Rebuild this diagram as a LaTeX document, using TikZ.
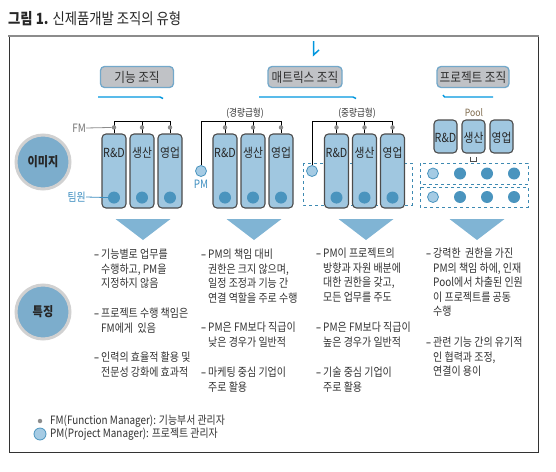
\documentclass[tikz,border=0pt]{standalone}
\usepackage{fontspec}
\setmainfont{Noto Sans CJK KR}[FakeStretch=0.86]
\newfontfamily\latin{Noto Sans}[FakeStretch=0.86]
\usetikzlibrary{positioning}

\definecolor{boxblue}{RGB}{160,199,224}
\definecolor{dotblue}{RGB}{74,148,190}
\definecolor{pmblue}{RGB}{165,203,228}
\definecolor{dashblue}{RGB}{62,138,178}
\definecolor{headgray}{RGB}{192,194,198}
\definecolor{headrim}{RGB}{115,168,202}
\definecolor{lineblue}{RGB}{0,150,222}
\definecolor{triblue}{RGB}{128,180,212}
\definecolor{circblue}{RGB}{124,173,204}
\definecolor{txtgray}{RGB}{50,50,50}
\definecolor{lblblue}{RGB}{62,142,192}
\definecolor{poolbrown}{RGB}{125,105,75}

\newcommand{\idash}{\llap{{\latin –}\hspace{2pt}}}

\tikzset{
  orghead/.style={draw=headrim, line width=1.3pt, fill=headgray, rounded corners=4pt,
    minimum height=21pt, inner sep=0pt, font=\fontsize{13.5}{13.5}\selectfont, text=txtgray},
  dept/.style={draw=black!70, line width=1.1pt, fill=boxblue, rounded corners=4pt,
    minimum width=24pt, minimum height=74pt, inner sep=0pt},
  pooldept/.style={dept, minimum width=23pt, minimum height=33pt},
  deptlbl/.style={font=\fontsize{12.5}{12.5}\selectfont, text=black!85, inner sep=0pt},
  member/.style={circle, fill=dotblue, minimum size=12pt, inner sep=0pt},
  pm/.style={circle, draw=dotblue, line width=0.8pt, fill=pmblue, minimum size=11pt, inner sep=0pt},
  joint/.style={circle, fill=black!45, minimum size=4.5pt, inner sep=0pt},
  bracket/.style={draw=black, line width=0.8pt},
  poolbox/.style={draw=dashblue, dashed, line width=0.8pt},
  sublbl/.style={font=\fontsize{10}{10}\selectfont, text=txtgray, inner sep=0pt},
  lbl/.style={font=\fontsize{11.5}{11.5}\selectfont, inner sep=0pt},
  item/.style={anchor=north west, inner sep=0pt, align=left, text=txtgray,
    font=\fontsize{11.6}{14.5}\selectfont},
  bigcirc/.style={circle, draw=black!18, line width=3pt, fill=circblue, minimum size=54pt,
    inner sep=0pt, font=\bfseries\fontsize{13}{13}\selectfont, text=black!85},
  uline/.style={draw=lineblue, line width=1.4pt},
  legend/.style={anchor=west, inner sep=0pt, font=\fontsize{11.5}{11.5}\selectfont, text=txtgray}
}

\begin{document}
\begin{tikzpicture}[x=1pt,y=-1pt]
  \useasboundingbox (0,0) rectangle (556,471);

  % Titel und Rahmen
  \node[anchor=west, inner sep=0pt, font=\fontsize{15.5}{15.5}\selectfont, text=black!85] (title) at (8,19)
    {\textbf{그림 1.} 신제품개발 조직의 유형};
  \draw[black!80, line width=0.8pt] (9,36) -- (9,452) -- (538,452) -- (538,36);
  \draw[black!45, line width=2pt] (8,36) -- (539,36);
  \draw[lineblue, line width=1.5pt] (313.5,41) -- (313.5,55) -- (319,50);

  % Ueberschriften
  \node[orghead, minimum width=73pt] (tfunc) at (137,77) {기능 조직};
  \node[orghead, minimum width=74pt] (tmat) at (305,77) {매트릭스 조직};
  \node[orghead, minimum width=72pt] (tproj) at (473,77) {프로젝트 조직};
  \draw[uline] (98,97) -- (160,97) -- (163,98.5);
  \draw[uline] (259,97) -- (353,97) -- (356,98.5);
  \draw[uline] (443,95) -- (444.5,97) -- (493,97);

  \node[sublbl] (light) at (245,113) {(경량급형)};
  \node[sublbl] (heavy) at (357,113) {(중량급형)};
  \node[sublbl, text=poolbrown] (pool) at (474,113) {Pool};

  % Kreise links
  \node[bigcirc] (img) at (43,162) {이미지};
  \node[bigcirc] (feat) at (43,312) {특징};

  % Funktionale Organisation
  \coordinate (top) at (0,121);
  \foreach \n/\t [count=\i] in {r/{R\&D}, p/생산, s/영업} {
    \node[dept] (f\n) at ({86+28*\i},171) {};
    \node[deptlbl] at ([yshift=-19pt]f\n.north) {\t};
    \node[member] (fm\n) at ([yshift=11pt]f\n.south) {};
  }
  \draw[bracket] (fr.north) |- (fs.north |- top) -- (fs.north);
  \draw[bracket] (fp.north) -- (fp.north |- top);
  \foreach \n in {r,p,s}
    \node[joint] (fj\n) at ([yshift=6pt]f\n.north) {};
  \node[lbl, anchor=east, text=black!55] (fmlbl) at (86,128) {FM};
  \draw[black!45, line width=0.8pt] (fmlbl.east) -- (fjr.west);
  \node[lbl, anchor=east, text=lblblue] (tw) at (86,197) {팀원};
  \draw[lblblue, line width=0.8pt] (tw.east) -- (fmr.west);

  % Matrix (leicht)
  \node[pm] (lpm) at (201,171) {};
  \node[lbl, text=lblblue] (lpmlbl) at (201,184) {PM};
  \foreach \n/\t [count=\i] in {r/{R\&D}, p/생산, s/영업} {
    \node[dept] (l\n) at ({197+28*\i},171) {};
    \node[deptlbl] at ([yshift=-19pt]l\n.north) {\t};
    \node[member] (lm\n) at ([yshift=11pt]l\n.south) {};
  }
  \draw[bracket] (lpm) |- (ls.north |- top) -- (ls.north);
  \draw[bracket] (lr.north) -- (lr.north |- top);
  \draw[bracket] (lp.north) -- (lp.north |- top);
  \foreach \n in {r,p,s}
    \node[joint] (lj\n) at ([yshift=6pt]l\n.north) {};

  % Matrix (schwer)
  \draw[poolbox] (303,163) rectangle (412,205);
  \node[pm] (hpm) at (312,171) {};
  \foreach \n/\t [count=\i] in {r/{R\&D}, p/생산, s/영업} {
    \node[dept] (h\n) at ({308.5+28*\i},171) {};
    \node[deptlbl] at ([yshift=-19pt]h\n.north) {\t};
    \node[member] (hm\n) at ([yshift=11pt]h\n.south) {};
  }
  \draw[bracket] (hpm) |- (hs.north |- top) -- (hs.north);
  \draw[bracket] (hr.north) -- (hr.north |- top);
  \draw[bracket] (hp.north) -- (hp.north |- top);
  \foreach \n in {r,p,s}
    \node[joint] (hj\n) at ([yshift=6pt]h\n.north) {};

  % Projektorganisation
  \foreach \n/\t [count=\i] in {r/{R\&D}, p/생산, s/영업} {
    \node[pooldept] (p\n) at ({417.5+28*\i},136.5) {};
    \node[deptlbl] at ([yshift=-1.5pt]p\n.center) {\t};
  }
  \draw[black!70, line width=0.6pt] ([xshift=-3pt,yshift=-3pt]pp.south) -- ++(0,5) -- ++(6,0) -- ++(0,-5);
  \draw[poolbox] (420,163) rectangle (528,184);
  \draw[poolbox] (420,187) rectangle (528,207);
  \foreach \r/\y in {a/173.5, b/197} {
    \node[pm] (q\r0) at (433,\y) {};
    \foreach \k in {1,2,3}
      \node[member] (q\r\k) at ({433+27*\k},\y) {};
  }

  % Pfeile
  \foreach \c in {143,254,366,477}
    \fill[triblue] ({\c-27.5},219) -- ({\c+27.5},219) -- (\c,240) -- cycle;

  % Merkmale
  \node[item] (fa) at (101,249) {\idash 기능별로 업무를\\수행하고, PM을\\지정하지 않음};
  \node[item] (fb) at (101,308) {\idash 프로젝트 수행 책임은\\FM에게\ \ 있음};
  \node[item] (fc) at (101,352) {\idash 인력의 효율적 활용 및\\전문성 강화에 효과적};

  \node[item] (la) at (208,249) {\idash PM의 책임 대비\\권한은 크지 않으며,\\일정 조정과 기능 간\\연결 역할을 주로 수행};
  \node[item] (lb) at (208,322) {\idash PM은 FM보다 직급이\\낮은 경우가 일반적};
  \node[item] (lc) at (208,367) {\idash 마케팅 중심 기업이\\주로 활용};

  \node[item] (ha) at (323,248) {\idash PM이 프로젝트의\\방향과 자원 배분에\\대한 권한을 갖고,\\모든 업무를 주도};
  \node[item] (hb) at (323,322) {\idash PM은 FM보다 직급이\\높은 경우가 일반적};
  \node[item] (hc) at (323,367) {\idash 기술 중심 기업이\\주로 활용};

  \node[item] (pa) at (433,248) {\idash 강력한\ \ 권한을 가진\\PM의 책임 하에, 인재\\Pool에서 차출된 인원\\이 프로젝트를 공동\\수행};
  \node[item] (pb) at (433,337) {\idash 관련 기능 간의 유기적\\인 협력과 조정,\\연결이 용이};

  % Legende
  \node[joint] (lgf) at (40,421) {};
  \node[legend] (lgft) at (50,421) {FM(Function Manager): 기능부서 관리자};
  \node[pm, minimum size=12pt] (lgp) at (40,434) {};
  \node[legend] (lgpt) at (50,434) {PM(Project Manager): 프로젝트 관리자};
\end{tikzpicture}
\end{document}
